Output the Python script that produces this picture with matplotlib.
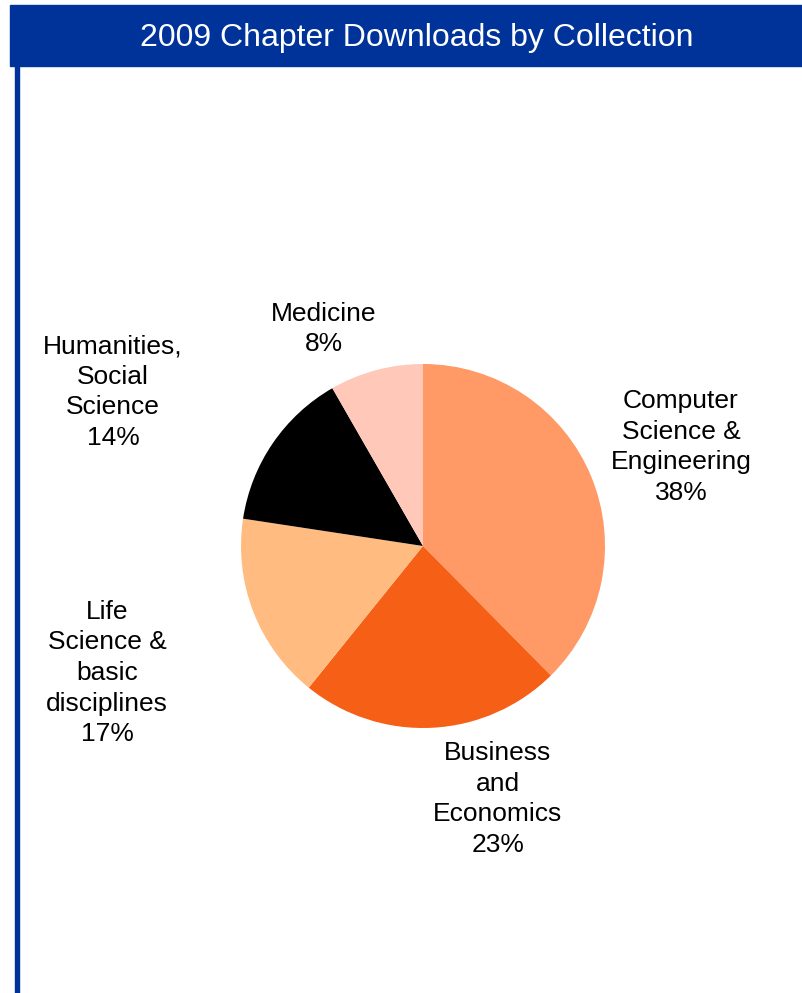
import matplotlib
matplotlib.use("Agg")
import matplotlib.pyplot as plt
from matplotlib.patches import Rectangle

plt.rcParams['font.family'] = ['Liberation Sans', 'DejaVu Sans']

# data, clockwise from 12 o'clock
collections = ['Computer\nScience &\nEngineering', 'Business\nand\nEconomics',
               'Life\nScience &\nbasic\ndisciplines', 'Humanities,\nSocial\nScience',
               'Medicine']
shares = [37.6, 23.2, 16.6, 14.3, 8.3]
colors = ['#FF9966', '#F66016', '#FFBB80', '#000000', '#FFC8B8']

# label centres in pixels (x, y from top)
label_pos = [(681, 447), (498, 799), (107, 673), (113, 392), (324, 329)]

W, H = 803, 993
fig = plt.figure(figsize=(W / 100, H / 100), dpi=100)
fig.patch.set_facecolor('white')

# title bar and left border
fig.patches.append(Rectangle((10 / W, 1 - 66 / H), 1 - 10 / W, 61 / H,
                             transform=fig.transFigure, color='#003399', zorder=0))
fig.patches.append(Rectangle((15 / W, 0), 4 / W, 1 - 66 / H,
                             transform=fig.transFigure, color='#003399', zorder=0))
fig.text(417 / W, 1 - 38 / H, '2009 Chapter Downloads by Collection',
         color='white', fontsize=23, ha='center', va='center')

# pie
cx, cy, r = 423, 546, 182
ax = fig.add_axes([(cx - r) / W, 1 - (cy + r) / H, 2 * r / W, 2 * r / H])
ax.pie(shares, colors=colors, startangle=90, counterclock=False,
       wedgeprops=dict(linewidth=0))
ax.set_xlim(-1, 1)
ax.set_ylim(-1, 1)
ax.set_aspect('equal')
ax.axis('off')

for name, val, (lx, ly) in zip(collections, shares, label_pos):
    fig.text(lx / W, 1 - ly / H, f'{name}\n{val:.0f}%', fontsize=19,
             ha='center', va='center', linespacing=1.35)

fig.savefig('out.png', dpi=100)
